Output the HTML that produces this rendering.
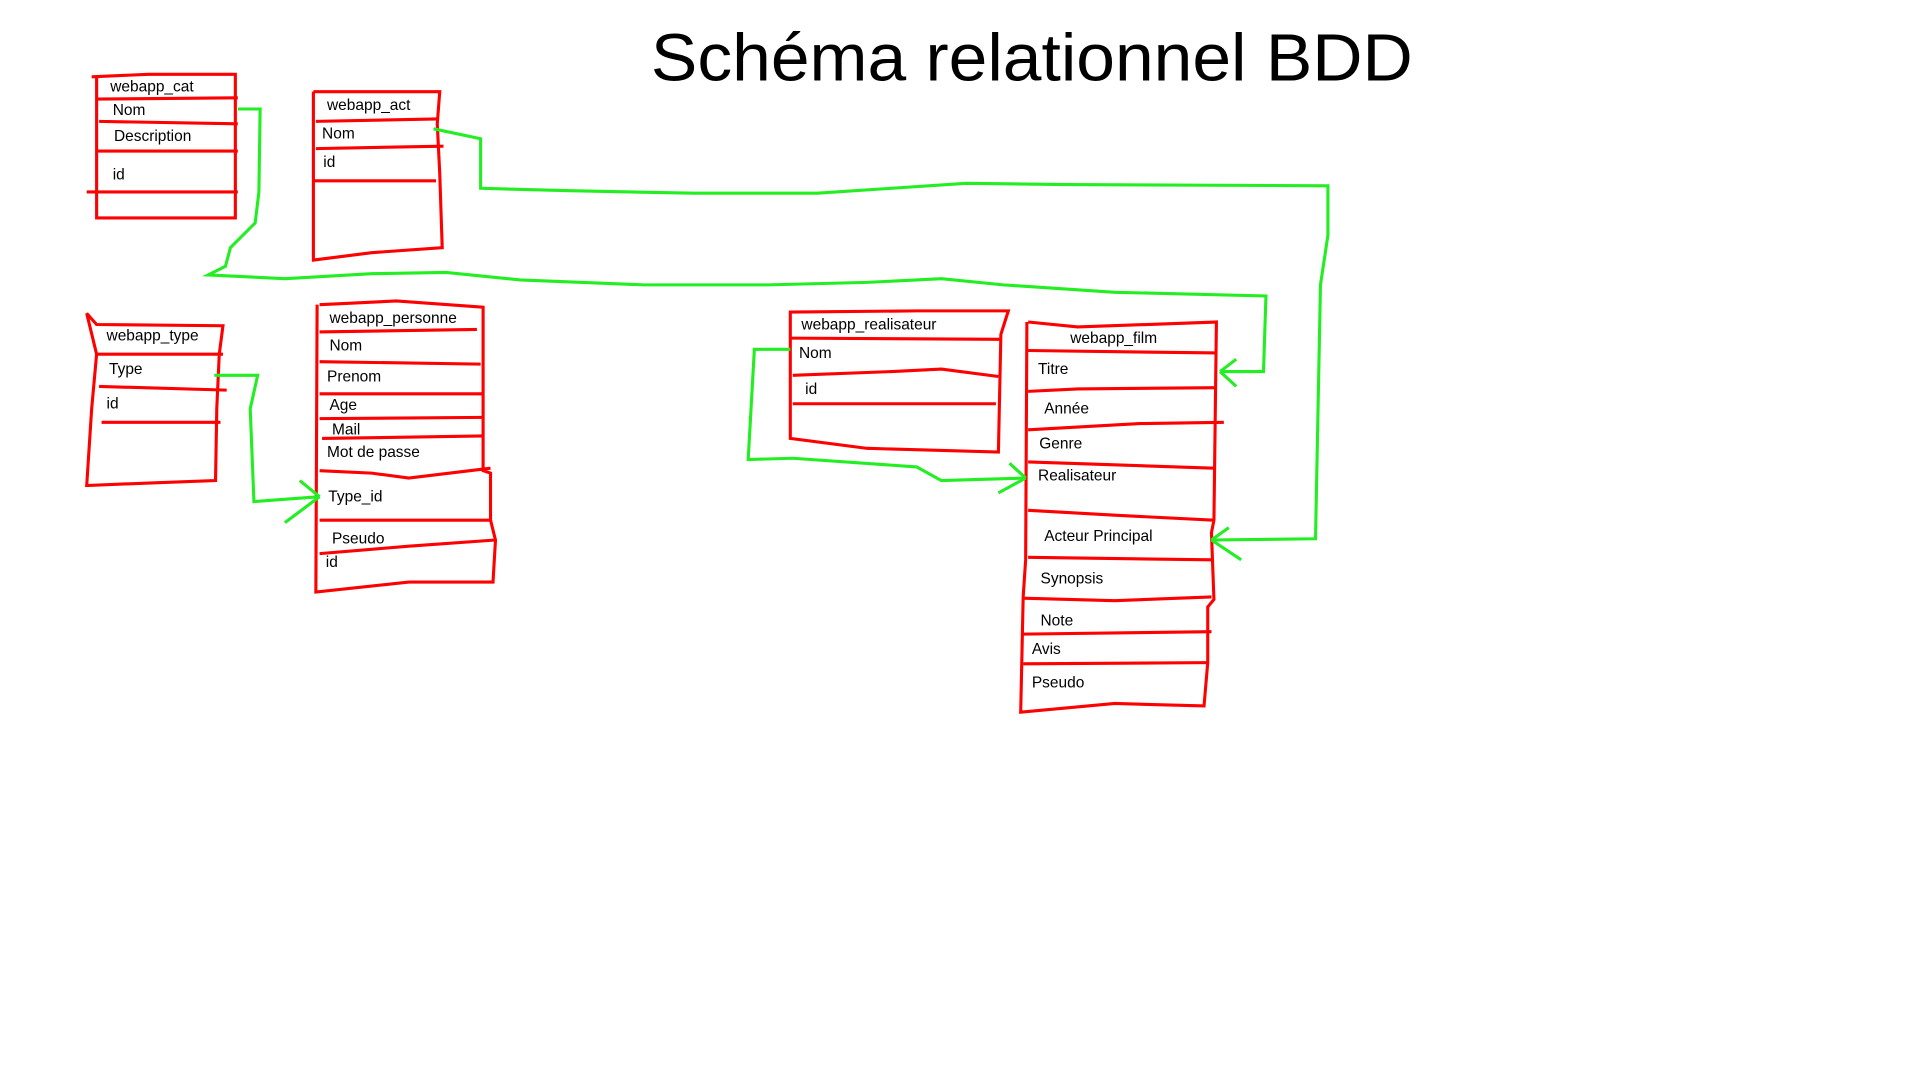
<!DOCTYPE html>
<html><head><meta charset="utf-8"><style>html,body{margin:0;padding:0;background:#fff;overflow:hidden}svg{display:block}</style></head>
<body>
<svg width="1920" height="1080" viewBox="0 0 1550 872" preserveAspectRatio="none" xmlns="http://www.w3.org/2000/svg">
<rect width="1550" height="872" fill="#fff"/>
<text x="833" y="65" text-anchor="middle" font-family="Liberation Sans, sans-serif" font-size="54" fill="#000" textLength="615" lengthAdjust="spacingAndGlyphs">Schéma relationnel BDD</text>
<g fill="none" stroke="#ff0000" stroke-width="2.5">
<path d="M74,62 L120,60 L190,60 L190,176 L120,176 L78,176 L78,62"/>
<path d="M78,80 L192,79 M80,98 L192,100 M78,122 L192,122 M70,155 L192,155"/>
<path d="M253,74 L355,74 L353,100 L355,140 L357,200 L300,204 L253,210 L253,74"/>
<path d="M255,98 L353,96 M255,120 L358,118 M253,146 L352,146"/>
<path d="M70,253 L78,262 L180,263 L177,286 L175,330 L174,388 L120,390 L70,392 L74,330 L78,286 Z"/>
<path d="M78,286 L180,286 M80,312 L183,315 M82,341 L178,341"/>
<path d="M258,246 L320,243 L390,248 L390,380 L396,382 L396,420 L400,436 L398,470 L330,470 L255,478 L256,246"/>
<path d="M258,268 L385,266 M258,292 L388,294 M258,318 L390,318 M258,338 L390,337 M260,354 L390,352 M258,380 L300,382 L330,386 L396,378 M258,420 L396,420 M258,447 L330,441 L400,436"/>
<path d="M638,252 L740,251 L814,251 L808,270 L806,365 L700,362 L638,354 Z"/>
<path d="M638,273 L808,274 M640,303 L720,300 L760,298 L806,304 M640,326 L804,326"/>
<path d="M830,260 L870,264 L982,260 L980,420 L978,430 L980,484 L975,490 L975,535 L972,570 L900,568 L824,575 L826,482 L828,452 L829,260"/>
<path d="M830,283 L982,285 M830,316 L870,314 L982,313 M830,347 L920,342 L988,341 M830,373 L980,378 M830,412 L900,416 L980,420 M830,450 L978,452 M826,483 L900,485 L978,482 M826,512 L978,510 M826,536 L975,535"/>
</g>
<g fill="none" stroke="#22ee22" stroke-width="2.5">
<path d="M192,88 L210,88 L209,155 L206,180 L186,200 L182,215 L168,222 L230,225 L300,221 L360,220 L420,226 L520,230 L620,230 L700,228 L760,225 L810,230 L900,236 L1022,239 L1020,300 L985,300"/>
<path d="M985,300 L998,290 M985,300 L998,312"/>
<path d="M350,104 L388,112 L388,152 L460,154 L560,156 L660,156 L720,152 L780,148 L860,149 L1072,150 L1072,190 L1066,230 L1062,435 L978,436"/>
<path d="M978,436 L992,426 M978,436 L1002,452"/>
<path d="M173,303 L208,303 L202,330 L205,405 L258,401"/>
<path d="M258,401 L242,388 M258,401 L230,422"/>
<path d="M638,282 L609,282 L604,371 L640,370 L740,377 L760,388 L828,386"/>
<path d="M828,386 L815,374 M828,386 L806,398"/>
</g>
<g font-family="Liberation Sans, sans-serif" font-size="12.5" fill="#000">
<text x="89" y="74">webapp_cat</text><text x="91" y="93">Nom</text><text x="92" y="114">Description</text><text x="91" y="145">id</text>
<text x="264" y="89">webapp_act</text><text x="260" y="112">Nom</text><text x="261" y="135">id</text>
<text x="86" y="275">webapp_type</text><text x="88" y="302">Type</text><text x="86" y="330">id</text>
<text x="266" y="261">webapp_personne</text><text x="266" y="283">Nom</text><text x="264" y="308">Prenom</text><text x="266" y="331">Age</text><text x="268" y="351">Mail</text><text x="264" y="369">Mot de passe</text><text x="265" y="405">Type_id</text><text x="268" y="439">Pseudo</text><text x="263" y="458">id</text>
<text x="647" y="266">webapp_realisateur</text><text x="645" y="289">Nom</text><text x="650" y="318">id</text>
<text x="864" y="277">webapp_film</text><text x="838" y="302">Titre</text><text x="843" y="334">Année</text><text x="839" y="362">Genre</text><text x="838" y="388">Realisateur</text><text x="843" y="437">Acteur Principal</text><text x="840" y="471">Synopsis</text><text x="840" y="505">Note</text><text x="833" y="528">Avis</text><text x="833" y="555">Pseudo</text>
</g>
</svg>
</body></html>
